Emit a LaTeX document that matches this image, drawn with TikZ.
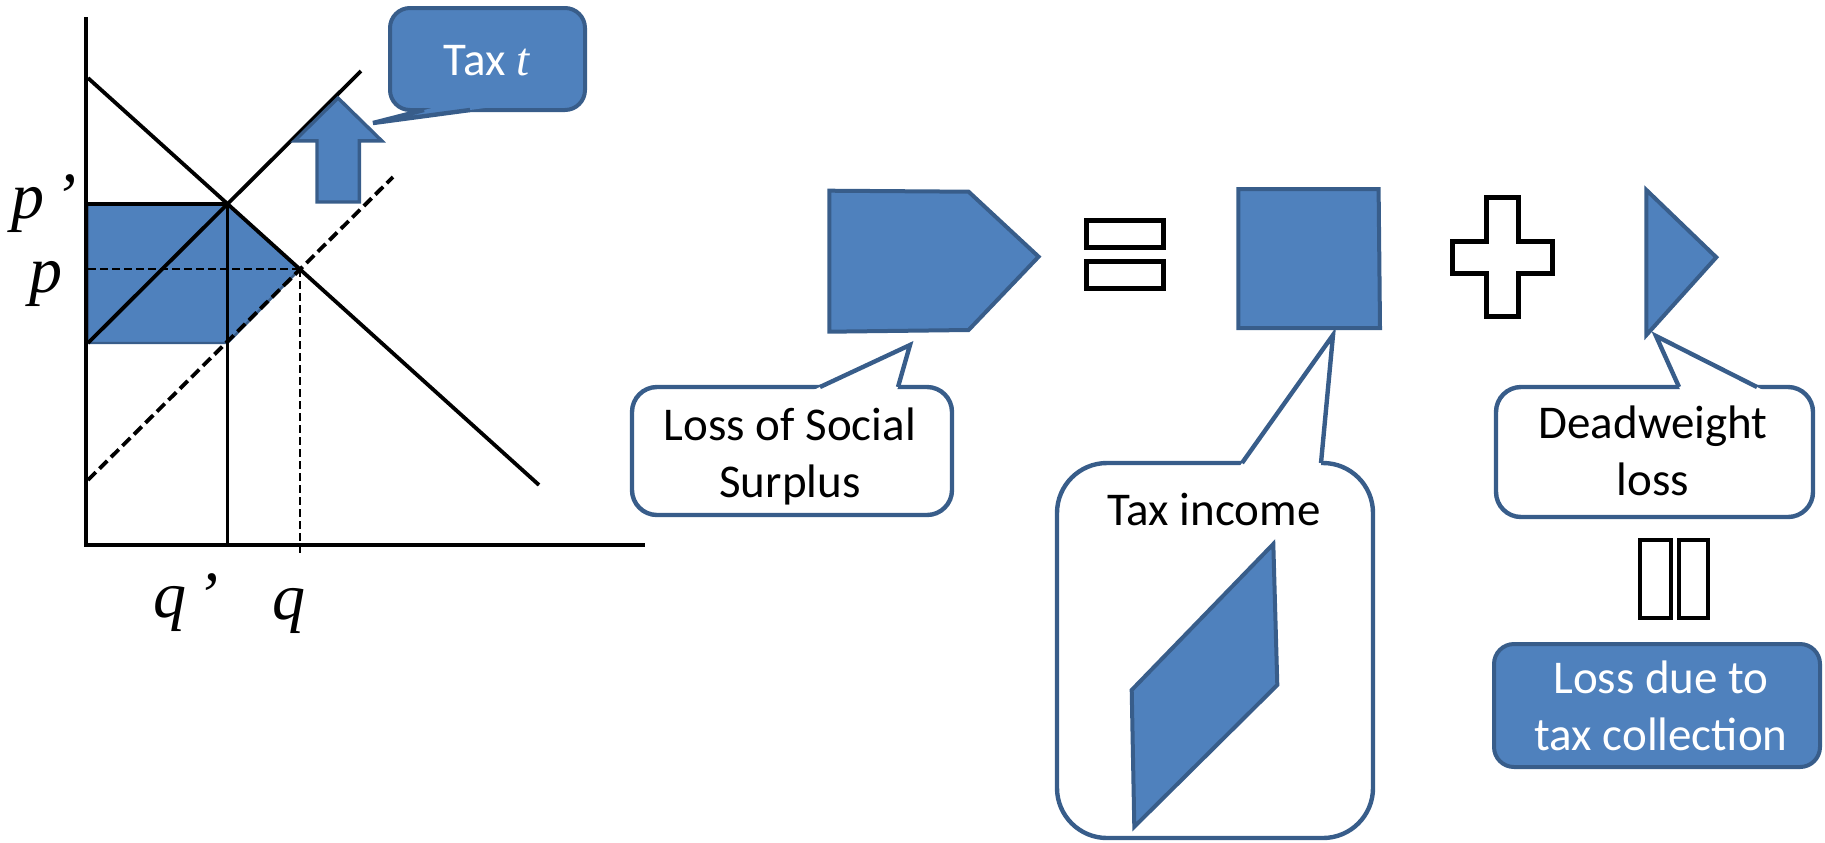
\documentclass[tikz,border=0pt]{standalone}
\usepackage{fontspec}
\setmainfont{Carlito}
\newfontfamily\tnr{Liberation Serif}
\definecolor{fillblue}{HTML}{4F81BD}
\definecolor{edgeblue}{HTML}{385D8A}
\begin{document}
\begin{tikzpicture}[x=0.5pt,y=-0.5pt,
  blueshape/.style={fill=fillblue,draw=edgeblue,line width=2pt,line join=miter},
  bubblebox/.style={fill=white,draw=edgeblue,line width=2.2pt},
  bubbleedge/.style={draw=edgeblue,line width=2.2pt,line join=miter},
  curve/.style={black,line width=1.9pt},
  dashcurve/.style={black,line width=1.9pt,dash pattern=on 5.5pt off 2.6pt},
  guide/.style={black,line width=1.4pt,dash pattern=on 4pt off 2pt},
  mathsign/.style={draw=black,fill=white,line width=2.5pt,line join=miter},
  sanslabel/.style={font=\fontsize{23.5}{28.5}\selectfont,align=center,inner sep=0pt,anchor=base},
  axislabel/.style={font=\fontsize{33}{36}\tnr\itshape,inner sep=0pt,anchor=base west},
]
\useasboundingbox (0,0) rectangle (1825,842);

% ---------- graph coordinates ----------
\coordinate (O) at (86,545);
\coordinate (Ytop) at (86,17);
\coordinate (Xend) at (645,545);
\coordinate (Da) at (88,78);
\coordinate (Db) at (539,485);
\coordinate (Sa) at (88,343);
\coordinate (Sb) at (361,71);
\coordinate (Ta) at (88,480);
\coordinate (Tb) at (393,177);
\coordinate (Eq1) at (227.5,204);
\coordinate (Eq0) at (300,269);
\coordinate (Eq1foot) at (227.5,545);
\coordinate (Eq0foot) at (300,556);
\coordinate (Pleft) at (88,269);
\coordinate (Topleft) at (88,204);
\coordinate (Lowleft) at (88,343);
\coordinate (Lowright) at (227.5,343);

% shaded area
\filldraw[fill=fillblue,draw=edgeblue,line width=1.2pt] (Topleft) -- (Eq1) -- (Eq0) -- (Lowright) -- (Lowleft) -- cycle;

% curves
\draw[curve] (Ytop) -- (O) -- (Xend);
\draw[curve] (Da) -- (Db);
\draw[curve] (Sa) -- (Sb);
\draw[dashcurve] (Ta) -- (Tb);
\draw[curve] (Topleft) -- (Eq1) -- (Eq1foot);
\draw[guide] (Pleft) -- (Eq0);
\draw[guide,line width=1.1pt] (Eq0) -- (Eq0foot);

% axis labels
\node[axislabel] (pprime) at (11,218) {p\hspace{5pt}’};
\node[axislabel] (plabel) at (29,292) {p};
\node[axislabel] (qprime) at (153,617) {q\hspace{5pt}’};
\node[axislabel] (qlabel) at (272,619) {q};

% up arrow
\draw[blueshape,line width=1.7pt] (338,98) -- (381.7,140.8) -- (359.4,140.8) -- (359.4,202) -- (317,202) -- (317,140.8) -- (294.6,140.8) -- cycle;

% Tax t callout
\draw[blueshape,rounded corners=10pt] (390,8) rectangle (585,110);
\fill[fillblue] (373,123) -- (435.8,107) -- (492.4,107) -- cycle;
\draw[bubbleedge] (424,110) -- (373,123) -- (470,110);
\node[sanslabel,text=white] (taxt) at (486.5,75) {Tax {\tnr\itshape t}};

% ---------- right side ----------
% pentagon: loss of social surplus
\draw[blueshape] (829.4,190.7) -- (968.6,191.7) -- (1038.6,256.7) -- (968.6,330) -- (829.4,331.7) -- cycle;
% equal sign
\draw[mathsign] (1086,220.5) rectangle (1163.5,247.5);
\draw[mathsign] (1086,261) rectangle (1163.5,288);
% square: tax income
\draw[blueshape] (1238.4,189) -- (1378.6,189) -- (1380,328) -- (1238.4,328) -- cycle;
% plus sign
\draw[mathsign] (1486,197.5) -- (1518,197.5) -- (1518,241.5) -- (1552.5,241.5) -- (1552.5,273.5) -- (1518,273.5) -- (1518,316) -- (1486,316) -- (1486,273.5) -- (1452.5,273.5) -- (1452.5,241.5) -- (1486,241.5) -- cycle;
% triangle: deadweight loss
\draw[blueshape] (1646.4,190) -- (1716.3,257.3) -- (1646.4,335) -- cycle;

% Loss of Social Surplus callout
\draw[bubblebox,rounded corners=12.5pt] (632,387) rectangle (952,515);
\fill[white] (910,345) -- (813.6,390) -- (897.1,390) -- cycle;
\draw[bubbleedge] (820,387) -- (910,345) -- (898,387);
\node[sanslabel] (lossSS) at (790,497) {Loss of Social\\Surplus};

% Tax income callout
\draw[bubblebox,rounded corners=25pt] (1057,463) rectangle (1373,838);
\fill[white] (1333,335) -- (1239.9,466) -- (1320.7,466) -- cycle;
\draw[bubbleedge] (1242,463) -- (1333,335) -- (1321,463);
\node[sanslabel] (taxinc) at (1214,525) {Tax income};
\draw[blueshape] (1131.7,690) -- (1273.3,544) -- (1277.3,685) -- (1134.3,826.7) -- cycle;

% Deadweight loss callout
\draw[bubblebox,rounded corners=12.5pt] (1496,387) rectangle (1813,517);
\fill[white] (1656,336) -- (1680.4,390) -- (1762.9,390) -- cycle;
\draw[bubbleedge] (1679,387) -- (1656,336) -- (1757,387);
\node[sanslabel] (dwl) at (1653,495) {Deadweight\\loss};

% boxes below
\draw[black,line width=2pt] (1640.3,540.3) rectangle (1671.3,618);
\draw[black,line width=2pt] (1678.7,540.3) rectangle (1708,618);

% Loss due to tax collection
\draw[blueshape,rounded corners=10pt] (1494,644) rectangle (1820,767);
\node[sanslabel,text=white] (lossdue) at (1661,750) {Loss due to\\tax collection};
\end{tikzpicture}
\end{document}
